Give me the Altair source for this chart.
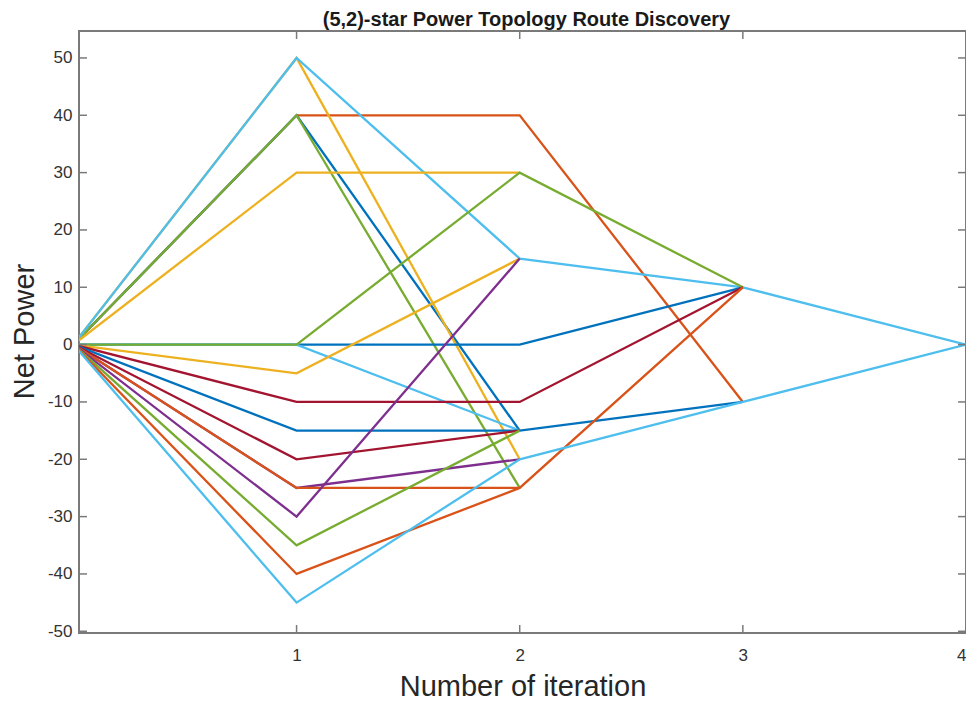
import altair as alt
import pandas as pd

# ---- data ----
x_ticks = [1, 2, 3, 4]
y_ticks = [-50, -40, -30, -20, -10, 0, 10, 20, 30, 40, 50]

color_names = ["blue", "orange", "yellow", "purple", "green", "lightblue", "darkred"]
color_hex = ["#0072BD", "#D95319", "#EDB120", "#7E2F8E", "#77AC30", "#4DBEEE", "#A2142F"]

series_colors = [
    "orange", "blue", "green", "yellow", "lightblue",
    "yellow", "blue", "lightblue", "green", "yellow",
    "darkred", "blue", "darkred", "purple", "orange",
    "purple", "green", "orange", "lightblue",
]
series_values = [
    [0, 40, 40, -10],
    [0, 40, -15],
    [0, 40, -25],
    [0, 50, -20],
    [0, 50, 15, 10, 0],
    [0, 30, 30],
    [0, 0, 0, 10],
    [0, 0, -15],
    [0, 0, 30, 10],
    [0, -5, 15],
    [0, -10, -10, 10],
    [0, -15, -15, -10],
    [0, -20, -15],
    [0, -25, -20],
    [0, -25, -25],
    [0, -30, 15],
    [0, -35, -15],
    [0, -40, -25, 10],
    [0, -45, -20, -10, 0],
]

rows = []
for i, (c, vals) in enumerate(zip(series_colors, series_values)):
    for it, v in enumerate(vals):
        rows.append({"series": f"s{i:02d}", "color": c, "x": it, "y": v})
df = pd.DataFrame(rows)

W, H = 887, 602
AX = "#7a7a7a"
FONT = "Liberation Sans"

xscale = alt.Scale(domain=[0.025, 4], nice=False, zero=False)
yscale = alt.Scale(domain=[-50.3, 54.7], nice=False, zero=False)

common = dict(domain=False, grid=False, ticks=False, tickSize=0,
              labelFont=FONT, labelFontSize=17, labelColor="#333333",
              labelExpr="toString(datum.value)",
              titleFont=FONT, titleFontWeight="normal", titleColor="#262626",
              titleFontSize=29, titleBaseline="alphabetic")

xaxis = alt.Axis(values=x_ticks, title="Number of iteration",
                 labelPadding=14, titleY=62, **common)
yaxis = alt.Axis(values=y_ticks, title="Net Power",
                 labelPadding=7, titleX=-46, titleY=300,
                 titleAngle=270, titleAlign="center", **common)

lines = alt.Chart(df).mark_line(strokeWidth=2.3, clip=True).encode(
    x=alt.X("x:Q", scale=xscale, axis=xaxis),
    y=alt.Y("y:Q", scale=yscale, axis=yaxis),
    color=alt.Color("color:N", scale=alt.Scale(domain=color_names, range=color_hex), legend=None),
    detail="series:N",
)

ydf = pd.DataFrame({"y": y_ticks})
xdf = pd.DataFrame({"x": x_ticks})

left_ticks = alt.Chart(ydf).mark_rule(color=AX, strokeWidth=1.5).encode(
    y=alt.Y("y:Q", scale=yscale, axis=yaxis), x=alt.value(0), x2=alt.value(8))
right_ticks = alt.Chart(ydf).mark_rule(color=AX, strokeWidth=1.5).encode(
    y=alt.Y("y:Q", scale=yscale, axis=yaxis), x=alt.value(W - 8), x2=alt.value(W))
bottom_ticks = alt.Chart(xdf).mark_rule(color=AX, strokeWidth=1.5).encode(
    x=alt.X("x:Q", scale=xscale, axis=xaxis), y=alt.value(H), y2=alt.value(H - 8))
top_ticks = alt.Chart(xdf).mark_rule(color=AX, strokeWidth=1.5).encode(
    x=alt.X("x:Q", scale=xscale, axis=xaxis), y=alt.value(0), y2=alt.value(8))

chart = alt.layer(lines, left_ticks, right_ticks, bottom_ticks, top_ticks).properties(
    width=W, height=H,
    background="white",
    title=alt.TitleParams("(5,2)-star Power Topology Route Discovery", font=FONT,
                          fontSize=20, fontWeight="bold", color="#1a1a1a",
                          offset=0, dx=4, frame="group"),
    autosize=alt.AutoSizeParams(type="none"),
    padding={"left": 71, "top": 23, "right": 0, "bottom": 73},
).configure_view(
    stroke=AX, strokeWidth=2
)

chart.save("out.html", embed_options={"renderer": "svg", "actions": False})
